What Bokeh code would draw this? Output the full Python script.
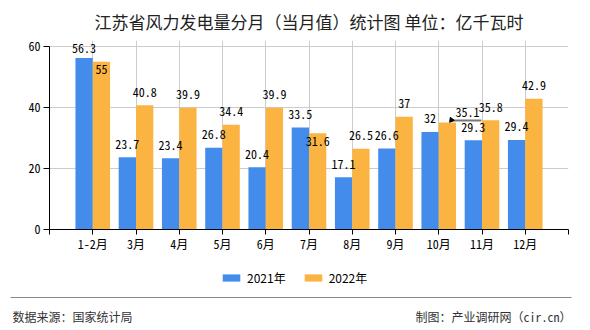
from bokeh.plotting import figure
from bokeh.layouts import column
from bokeh.models import (FixedTicker, Legend, LegendItem, ColumnDataSource, Range1d)
from bokeh.core.properties import value
from bokeh.embed import file_html
from bokeh.resources import INLINE

# ---- data ----
categories = ["1-2月", "3月", "4月", "5月", "6月", "7月", "8月", "9月", "10月", "11月", "12月"]
values_2021 = [56.3, 23.7, 23.4, 26.8, 20.4, 33.5, 17.1, 26.6, 32, 29.3, 29.4]
values_2022 = [55, 40.8, 39.9, 34.4, 39.9, 31.6, 26.5, 37, 35.1, 35.8, 42.9]
series_names = ["2021年", "2022年"]
y_ticks = [0, 20, 40, 60]
y_max = 60

title_text = "江苏省风力发电量分月（当月值）统计图 单位：亿千瓦时"
source_text = "数据来源：国家统计局"
credit_text = "制图：产业调研网（cir.cn）"

# ---- style ----
BLUE = "#438cec"
ORANGE = "#fbb441"
MONO = "Noto Sans Mono CJK SC"
SANS = "Noto Sans CJK SC"
W = 590
LEFT, RIGHT = 49, 22
TOP, BOTTOM = 40, 30
FRAME_W = W - LEFT - RIGHT
FRAME_H = 189
MAIN_H = TOP + FRAME_H + BOTTOM
FOOT_H = 330 - MAIN_H
y_top = 62  # a little head-room so the top value label is not clipped

n = len(categories)
positions = list(range(1, n + 1))
bar_w = 0.4

def fmt(v):
    return "%g" % v

# label offsets (screen px); default: centred above the bar top
dx21 = [0] * n
dy21 = [-13] * n
dy21[0] = -9
dx22 = [0] * n
dy22 = [-13] * n
dy22[0] = 8
dy22[5] = 8
dx22[8] = 20
dy22[8] = -10

src21 = ColumnDataSource(dict(x=[q - bar_w / 2 for q in positions], top=values_2021,
                              lab=[fmt(v) for v in values_2021], dx=dx21, dy=dy21))
src22 = ColumnDataSource(dict(x=[q + bar_w / 2 for q in positions], top=values_2022,
                              lab=[fmt(v) for v in values_2022], dx=dx22, dy=dy22))

p = figure(width=W, height=MAIN_H, x_range=Range1d(0, n + 1), y_range=Range1d(0, y_top),
           output_backend="svg", toolbar_location=None,
           min_border_left=LEFT, min_border_right=RIGHT,
           min_border_top=TOP, min_border_bottom=BOTTOM)
p.frame_align = False
p.title.text = title_text
p.title.align = "center"
p.title.text_font = SANS
p.title.text_font_size = "17px"
p.title.text_font_style = "normal"
p.title.text_color = "#222222"
p.title.standoff = 13
p.outline_line_color = None
p.background_fill_color = "white"
p.border_fill_color = "white"

r21 = p.vbar(x="x", top="top", width=bar_w, source=src21, fill_color=BLUE, line_color=None)
r22 = p.vbar(x="x", top="top", width=bar_w, source=src22, fill_color=ORANGE, line_color=None)

for s in (src21, src22):
    p.text(x="x", y="top", text="lab", x_offset="dx", y_offset="dy", source=s,
           text_align="center", text_baseline="middle", text_font=value(MONO),
           text_font_size="12px", text_color="#000000")

# leader line for the displaced 35.1 label
px_x = (n + 1) / FRAME_W
px_y = y_top / FRAME_H
i10 = 8
bx = positions[i10] + bar_w / 2
by = values_2022[i10]
p.segment(x0=[bx + 3 * px_x], y0=[by + 2 * px_y], x1=[bx + 34 * px_x], y1=[by + 2 * px_y],
          line_color="#777777", line_width=2)
p.scatter(x=[bx + 4 * px_x], y=[by + 2.5 * px_y], marker="triangle", size=5, angle=0.4,
          fill_color="#000000", line_color="#000000")

# axes
p.xaxis.ticker = FixedTicker(ticks=list(range(0, n + 2)))
overrides = {0: "", n + 1: ""}
for pos, c in zip(positions, categories):
    overrides[pos] = c
p.xaxis.major_label_overrides = overrides
p.xaxis.major_label_text_font = MONO
p.xaxis.major_label_text_font_size = "12px"
p.xaxis.major_label_text_color = "#000000"
p.xaxis.axis_line_color = "#000000"
p.xaxis.major_tick_line_color = "#000000"
p.xaxis.major_tick_in = 0
p.xaxis.major_tick_out = 5
p.xaxis.minor_tick_line_color = None
p.xaxis.major_label_standoff = 0

p.yaxis.ticker = FixedTicker(ticks=y_ticks)
p.yaxis.bounds = (0, y_max)
p.yaxis.major_label_text_font = MONO
p.yaxis.major_label_text_font_size = "12px"
p.yaxis.major_label_text_color = "#000000"
p.yaxis.axis_line_color = "#000000"
p.yaxis.major_tick_line_color = "#000000"
p.yaxis.major_tick_in = 0
p.yaxis.major_tick_out = 6
p.yaxis.minor_tick_line_color = None
p.yaxis.major_label_standoff = 3

p.xgrid.ticker = FixedTicker(ticks=list(range(1, n + 2)))
p.xgrid.grid_line_color = "#cccccc"
p.xgrid.bounds = (0, n + 1)
p.ygrid.ticker = FixedTicker(ticks=y_ticks[1:])
p.ygrid.grid_line_color = "#cccccc"

# ---- footer figure: legend, rule line, source texts (pixel coordinates) ----
f = figure(width=W, height=FOOT_H, x_range=Range1d(0, W), y_range=Range1d(FOOT_H, 0),
           output_backend="svg", toolbar_location=None,
           min_border_left=0, min_border_right=0, min_border_top=0, min_border_bottom=0)
f.frame_align = False
f.axis.visible = False
f.grid.visible = False
f.outline_line_color = None
f.background_fill_color = "white"
f.border_fill_color = "white"

nan = float("nan")
d21 = f.vbar(x=[nan], top=[nan], width=1, fill_color=BLUE, line_color=None)
d22 = f.vbar(x=[nan], top=[nan], width=1, fill_color=ORANGE, line_color=None)
legend = Legend(items=[LegendItem(label=series_names[0], renderers=[d21]),
                       LegendItem(label=series_names[1], renderers=[d22])],
                orientation="horizontal", location=(220, 44),
                glyph_width=22, glyph_height=9, label_standoff=5, spacing=16,
                padding=0, margin=0, border_line_color=None,
                background_fill_alpha=0, label_text_font=SANS,
                label_text_font_size="12px", label_text_color="#000000",
                label_height=12)
f.add_layout(legend, "center")

f.segment(x0=[10], y0=[297 - MAIN_H], x1=[571], y1=[297 - MAIN_H],
          line_color="#888888", line_width=1)
f.text(x=[12], y=[316 - MAIN_H], text=[source_text], text_align="left",
       text_baseline="middle", text_font=value(SANS), text_font_size="12px",
       text_color="#333333")
f.text(x=[571], y=[316 - MAIN_H], text=[credit_text], text_align="right",
       text_baseline="middle", text_font=value(MONO), text_font_size="12px",
       text_color="#333333")

layout = column(p, f, spacing=0)
open("out.html", "w").write(file_html(layout, INLINE))
